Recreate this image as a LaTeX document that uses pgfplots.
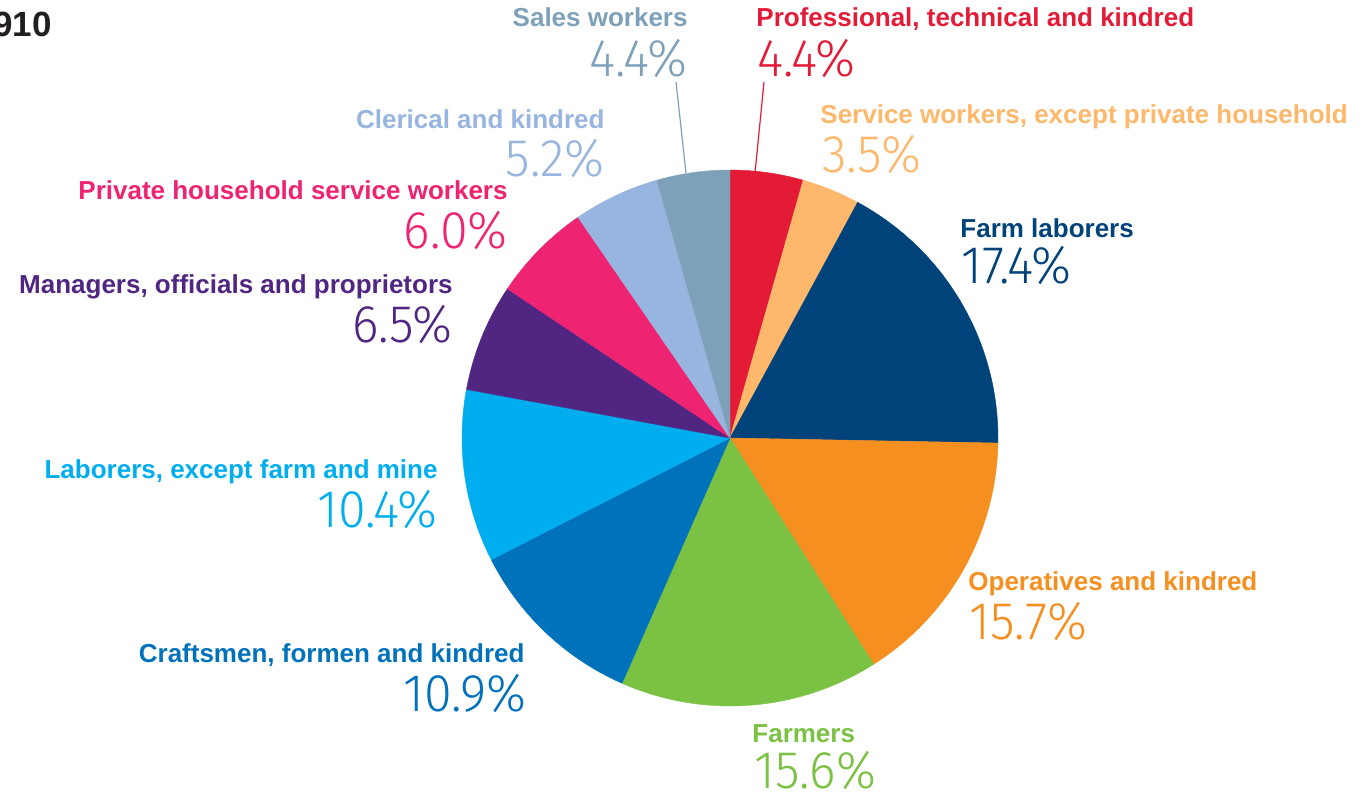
\documentclass[border=0pt]{standalone}
\usepackage{pgfplots}
\pgfplotsset{compat=1.18}
\usepackage{fontspec}
\setmainfont{Liberation Sans}
\newfontfamily\pct[FakeStretch=0.95]{Fira Sans Light}
\definecolor{cProf}{HTML}{E31B37}
\definecolor{cServ}{HTML}{FDB86C}
\definecolor{cFarmLab}{HTML}{00427A}
\definecolor{cOper}{HTML}{F58F20}
\definecolor{cFarmer}{HTML}{7BC143}
\definecolor{cCraft}{HTML}{0071BB}
\definecolor{cLab}{HTML}{00AEEF}
\definecolor{cMan}{HTML}{512682}
\definecolor{cPriv}{HTML}{EE2472}
\definecolor{cCler}{HTML}{98B5DF}
\definecolor{cSales}{HTML}{7EA1BA}
\definecolor{cTitle}{HTML}{231F20}
\tikzset{
  lab/.style={inner sep=0pt, font=\bfseries\fontsize{13}{15}\selectfont},
  pc/.style={inner sep=0pt, font=\pct\fontsize{26.5}{30}\selectfont},
}
\begin{document}
\begin{tikzpicture}
\begin{axis}[name=ax, x=0.5pt, y=0.5pt, xmin=0, xmax=1369, ymin=0, ymax=797,
  y dir=reverse, hide axis, clip=false]
\gdef\cum{0}
\foreach \v/\c in {4.4/cProf, 3.5/cServ, 17.4/cFarmLab, 15.7/cOper, 15.6/cFarmer,
  10.9/cCraft, 10.4/cLab, 6.5/cMan, 6.0/cPriv, 5.2/cCler, 4.4/cSales}{
  \pgfmathsetmacro\a{90-3.6*\cum}
  \pgfmathsetmacro\b{90-3.6*(\cum+\v)}
  \pgfmathsetmacro\n{\cum+\v}
  \xdef\cum{\n}
  \edef\temp{\noexpand\fill[\c, draw=\c, line width=0.2pt] (axis cs:730,438) -- ++(\a:134pt) arc[start angle=\a, end angle=\b, radius=134pt] -- cycle;}
  \temp
}
% leader lines
\draw[cSales, line width=0.6pt] (axis cs:676,82) -- (axis cs:686,173);
\draw[cProf, line width=0.6pt] (axis cs:764,82) -- (axis cs:755,173);
% labels
\node[lab, text=cSales, anchor=base east] at (axis cs:688,27) {Sales workers};
\node[pc, text=cSales, anchor=base east] at (axis cs:688,77) {4.4\%};
\node[lab, text=cProf, anchor=base west] at (axis cs:756,27) {Professional, technical and kindred};
\node[pc, text=cProf, anchor=base west] at (axis cs:757,77) {4.4\%};
\node[lab, text=cServ, anchor=base west] at (axis cs:820,123) {Service workers, except private household};
\node[pc, text=cServ, anchor=base west] at (axis cs:822,172) {3.5\%};
\node[lab, text=cFarmLab, anchor=base west] at (axis cs:960,237) {Farm laborers};
\node[pc, text=cFarmLab, anchor=base west] at (axis cs:961,283) {17.4\%};
\node[lab, text=cOper, anchor=base west] at (axis cs:968,590) {Operatives and kindred};
\node[pc, text=cOper, anchor=base west] at (axis cs:969,639) {15.7\%};
\node[lab, text=cFarmer, anchor=base west] at (axis cs:752,742) {Farmers};
\node[pc, text=cFarmer, anchor=base west] at (axis cs:754,788) {15.6\%};
\node[lab, text=cCraft, anchor=base east] at (axis cs:525,662) {Craftsmen, formen and kindred};
\node[pc, text=cCraft, anchor=base east] at (axis cs:527,711) {10.9\%};
\node[lab, text=cLab, anchor=base east] at (axis cs:438,478) {Laborers, except farm and mine};
\node[pc, text=cLab, anchor=base east] at (axis cs:438,527) {10.4\%};
\node[lab, text=cMan, anchor=base east] at (axis cs:453,293) {Managers, officials and proprietors};
\node[pc, text=cMan, anchor=base east] at (axis cs:453,342) {6.5\%};
\node[lab, text=cPriv, anchor=base east] at (axis cs:508,199) {Private household service workers};
\node[pc, text=cPriv, anchor=base east] at (axis cs:508,248) {6.0\%};
\node[lab, text=cCler, anchor=base east] at (axis cs:605,128) {Clerical and kindred};
\node[pc, text=cCler, anchor=base east] at (axis cs:605,176) {5.2\%};
\node[overlay, inner sep=0pt, text=cTitle, anchor=base east, font=\bfseries\fontsize{17.5}{20}\selectfont] at (axis cs:52,37) {1910};
\end{axis}
\pgfresetboundingbox
\path (ax.south west) rectangle (ax.north east);
\end{tikzpicture}
\end{document}
